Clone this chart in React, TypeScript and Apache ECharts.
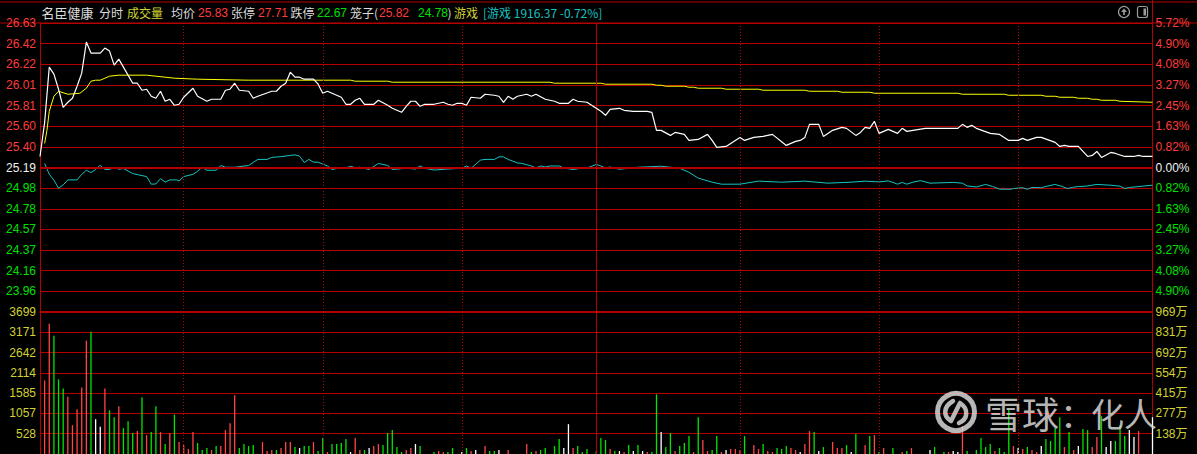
import React, { useEffect, useRef } from 'react';
import * as echarts from 'echarts';

// ---------------- data ----------------
const PREV_CLOSE = 25.19;
const PRICE_MAX = 26.63;
const VOL_MAX = 3699; // 手
const AMOUNT_MAX = 969; // 万

// white price line: [minute, price]
const priceLine: [number, number][] = [
  [0, 25.30], [1, 25.64], [2, 26.19], [3, 26.12], [4, 25.97], [5, 25.79], [6, 25.84], [7, 25.88], [8, 26.00], [9, 26.13],
  [10, 26.44], [11, 26.33], [13, 26.33], [14, 26.38], [15, 26.35], [16, 26.21], [17, 26.27], [18, 26.19], [20, 26.03],
  [21, 26.03], [22, 25.96], [23, 25.97], [24, 25.90], [25, 25.88], [26, 25.95], [27, 25.85], [28, 25.87], [29, 25.81],
  [30, 25.82], [31, 25.89], [33, 25.98], [34, 25.90], [36, 25.85], [37, 25.87], [39, 25.87], [40, 25.96], [41, 25.97],
  [42, 26.03], [43, 25.96], [45, 25.95], [46, 25.88], [47, 25.90], [50, 25.95], [51, 25.95], [52, 26.00], [53, 26.03],
  [54, 26.14], [55, 26.09], [56, 26.09], [57, 26.07], [59, 26.07], [60, 26.02], [61, 25.93], [62, 25.95], [64, 25.91],
  [65, 25.89], [66, 25.82], [67, 25.82], [68, 25.86], [69, 25.88], [70, 25.82], [72, 25.82], [73, 25.86], [75, 25.81],
  [76, 25.78], [78, 25.74], [79, 25.80], [80, 25.85], [81, 25.85], [82, 25.80], [83, 25.82], [85, 25.82], [87, 25.84],
  [88, 25.82], [89, 25.81], [90, 25.83], [91, 25.83], [92, 25.81], [93, 25.89], [95, 25.88], [96, 25.92], [98, 25.91],
  [99, 25.90], [100, 25.84], [101, 25.90], [102, 25.87], [103, 25.90], [105, 25.92], [106, 25.90], [107, 25.92],
  [109, 25.87], [111, 25.85], [112, 25.83], [114, 25.83], [115, 25.87], [116, 25.85], [118, 25.84], [119, 25.81],
  [121, 25.75], [122, 25.71], [123, 25.77], [125, 25.78], [126, 25.76], [128, 25.75], [131, 25.75], [132, 25.74],
  [133, 25.56], [134, 25.56], [136, 25.51], [137, 25.54], [139, 25.52], [140, 25.46], [142, 25.47], [144, 25.52],
  [145, 25.46], [146, 25.39], [148, 25.40], [151, 25.49], [152, 25.46], [154, 25.49], [156, 25.50], [158, 25.52],
  [161, 25.41], [163, 25.45], [164, 25.46], [165, 25.49], [166, 25.62], [168, 25.62], [169, 25.50], [171, 25.56],
  [173, 25.59], [174, 25.58], [176, 25.51], [177, 25.54], [178, 25.59], [179, 25.58], [180, 25.65], [181, 25.53],
  [183, 25.57], [184, 25.55], [185, 25.53], [186, 25.58], [187, 25.55], [191, 25.58], [198, 25.58], [199, 25.62],
  [200, 25.59], [201, 25.61], [202, 25.58], [205, 25.53], [207, 25.52], [209, 25.46], [211, 25.46], [212, 25.48],
  [213, 25.46], [215, 25.49], [216, 25.49], [219, 25.44], [220, 25.40], [221, 25.41], [222, 25.40], [224, 25.40],
  [226, 25.30], [227, 25.31], [228, 25.35], [229, 25.29], [231, 25.34], [232, 25.33], [234, 25.30], [236, 25.30],
  [237, 25.31], [238, 25.30], [240, 25.30],
];

// yellow average price line
const avgLine: [number, number][] = [
  [1, 25.43], [1.5, 25.56], [2, 25.75], [3, 25.90], [4, 25.95], [6, 25.92], [8.6, 25.93], [10, 25.98], [11, 26.05],
  [12, 26.06], [13, 26.06], [15, 26.10], [17, 26.11], [23, 26.11], [25, 26.10], [29, 26.08], [34, 26.07], [45, 26.06],
  [67, 26.06], [68, 26.05], [75, 26.05], [76, 26.04], [110, 26.04], [111, 26.03], [121, 26.03], [122, 26.02],
  [132, 26.02], [133, 26.01], [134, 26.01], [135, 26.00], [139, 26.00], [140, 25.99], [141, 25.99], [142, 25.98],
  [147, 25.98], [148, 25.97], [155, 25.97], [156, 25.96], [165, 25.96], [166, 25.95], [172, 25.95], [173, 25.94],
  [179, 25.94], [180, 25.93], [198, 25.93], [199, 25.92], [208, 25.92], [209, 25.91], [216, 25.91], [217, 25.90],
  [219, 25.90], [220, 25.89], [223, 25.89], [224, 25.88], [226, 25.88], [227, 25.87], [228, 25.87], [229, 25.86],
  [232, 25.86], [233, 25.85], [240, 25.84],
];

// cyan sector index (游戏) change in %
const indexPct: [number, number][] = [
  [1, 0.16], [2, -0.27], [3, -0.50], [4, -0.82], [5, -0.69], [6, -0.49], [8, -0.49], [9, -0.27], [10, -0.11],
  [11, -0.20], [12, -0.08], [13, 0.09], [14, -0.08], [15, -0.08], [16, 0.01], [17, -0.07], [18, -0.04], [20, -0.24],
  [22, -0.32], [23, -0.36], [24, -0.66], [25, -0.65], [26, -0.44], [27, -0.58], [28, -0.49], [29.5, -0.49],
  [30, -0.53], [31, -0.36], [33, -0.27], [34, -0.15], [35, 0.01], [36, -0.11], [38, -0.11], [39, 0.08], [40, 0.01],
  [42, 0.01], [45, 0.08], [46, 0.20], [47, 0.32], [49, 0.32], [50, 0.40], [52, 0.43], [55, 0.50], [56, 0.45],
  [57, 0.20], [58, 0.32], [59, 0.21], [60, 0.21], [62, 0.06], [63, -0.08], [65, 0.0], [66, -0.02], [67, 0.05],
  [68, -0.01], [69, 0.01], [71, -0.08], [73, 0.16], [75, 0.08], [76, -0.08], [79, -0.03], [81, -0.06], [82, 0.06],
  [83, -0.03], [85, -0.10], [88, -0.06], [91, -0.03], [92, 0.06], [93, -0.03], [95, 0.29], [96, 0.32], [98, 0.32],
  [99, 0.42], [100, 0.42], [101, 0.32], [103, 0.18], [104, 0.16], [106, 0.06], [107, -0.02], [108, 0.06],
  [109, 0.02], [110, 0.06], [112, 0.06], [113, -0.02], [115, -0.08], [117, -0.02], [118, -0.02], [120, 0.12],
  [121, 0.06], [122, -0.02], [123, 0.02], [125, -0.07], [129, 0.01], [134, 0.05], [138, -0.03], [140, -0.19],
  [142, -0.42], [145, -0.58], [147, -0.66], [151, -0.66], [155, -0.54], [160, -0.58], [165, -0.54], [170, -0.62],
  [175, -0.58], [178, -0.54], [181, -0.57], [183, -0.53], [184, -0.59], [185, -0.66], [186, -0.59], [187, -0.66],
  [188.5, -0.57], [190, -0.52], [192, -0.62], [197, -0.59], [199, -0.62], [200, -0.73], [202, -0.77], [204, -0.67],
  [205.5, -0.75], [207, -0.86], [209.5, -0.86], [210, -0.83], [212, -0.80], [213, -0.86], [214, -0.79], [216, -0.80],
  [217, -0.75], [219, -0.67], [220.5, -0.75], [221.6, -0.83], [222.7, -0.79], [224, -0.75], [225.6, -0.74],
  [228, -0.67], [231, -0.70], [233, -0.74], [234, -0.83], [235, -0.79], [240, -0.70],
];

// volume bars: [minute, volume (手), direction u=up d=down f=flat]
const volumeBars: [number, number, string][] = [
  [1, 1917, 'u'], [2, 3393, 'u'], [3, 3082, 'd'], [4, 1943, 'd'], [5, 1709, 'd'], [6, 1494, 'u'], [7, 751, 'u'],
  [8, 1166, 'u'], [9, 1735, 'u'], [10, 2953, 'u'], [11, 3186, 'd'], [12, 907, 'f'], [13, 707, 'f'], [14, 1709, 'u'],
  [15, 1140, 'd'], [16, 958, 'd'], [17, 1243, 'u'], [18, 673, 'd'], [19, 855, 'd'], [20, 544, 'd'], [21, 596, 'u'],
  [22, 1476, 'd'], [23, 492, 'u'], [24, 570, 'd'], [25, 1243, 'd'], [26, 570, 'u'], [27, 259, 'd'], [28, 544, 'u'],
  [29, 1027, 'd'], [30, 311, 'u'], [31, 233, 'u'], [32, 130, 'u'], [33, 570, 'u'], [34, 285, 'd'], [35, 104, 'd'],
  [36, 155, 'd'], [37, 104, 'u'], [38, 207, 'd'], [39, 207, 'u'], [40, 622, 'u'], [41, 803, 'u'], [42, 1528, 'u'],
  [43, 155, 'd'], [44, 259, 'd'], [45, 207, 'd'], [46, 233, 'd'], [48, 311, 'u'], [49, 78, 'u'], [50, 104, 'u'],
  [51, 104, 'd'], [52, 155, 'u'], [53, 311, 'u'], [54, 311, 'u'], [55, 181, 'd'], [56, 155, 'f'], [57, 207, 'd'],
  [58, 207, 'd'], [59, 311, 'u'], [60, 78, 'd'], [61, 414, 'd'], [62, 52, 'u'], [63, 259, 'd'], [64, 259, 'd'],
  [65, 285, 'd'], [66, 388, 'd'], [67, 52, 'f'], [68, 414, 'u'], [69, 104, 'u'], [70, 104, 'd'], [71, 155, 'f'],
  [72, 207, 'u'], [73, 259, 'u'], [74, 233, 'd'], [75, 544, 'd'], [76, 622, 'd'], [77, 181, 'd'], [78, 52, 'd'],
  [79, 104, 'u'], [80, 155, 'u'], [81, 259, 'f'], [82, 207, 'd'], [85, 52, 'd'], [86, 78, 'u'], [87, 52, 'u'],
  [88, 52, 'd'], [89, 155, 'd'], [91, 52, 'f'], [92, 155, 'd'], [93, 78, 'u'], [94, 104, 'f'], [96, 207, 'u'],
  [97, 78, 'd'], [98, 78, 'd'], [99, 104, 'f'], [101, 104, 'u'], [105, 259, 'u'], [106, 52, 'd'], [107, 78, 'u'],
  [108, 104, 'd'], [109, 155, 'd'], [111, 207, 'd'], [112, 388, 'd'], [113, 155, 'f'], [114, 777, 'f'],
  [115, 155, 'u'], [116, 207, 'd'], [117, 52, 'd'], [118, 130, 'd'], [120, 78, 'd'], [121, 414, 'd'], [122, 362, 'd'],
  [123, 130, 'u'], [124, 78, 'd'], [125, 78, 'f'], [126, 52, 'u'], [127, 233, 'd'], [128, 78, 'f'], [129, 233, 'd'],
  [130, 78, 'f'], [131, 52, 'u'], [132, 52, 'd'], [133, 1554, 'd'], [134, 570, 'f'], [135, 181, 'd'], [136, 544, 'd'],
  [137, 78, 'u'], [138, 207, 'd'], [139, 285, 'd'], [140, 466, 'd'], [141, 52, 'u'], [142, 958, 'd'], [143, 362, 'u'],
  [144, 78, 'u'], [145, 104, 'd'], [146, 466, 'd'], [147, 52, 'u'], [148, 104, 'f'], [149, 130, 'u'], [150, 130, 'u'],
  [151, 104, 'u'], [152, 466, 'd'], [154, 233, 'u'], [155, 130, 'u'], [156, 259, 'd'], [157, 78, 'u'], [158, 52, 'u'],
  [159, 155, 'd'], [160, 130, 'd'], [161, 207, 'd'], [162, 155, 'u'], [163, 104, 'u'], [164, 52, 'f'], [165, 259, 'u'],
  [166, 596, 'u'], [167, 570, 'd'], [168, 78, 'f'], [169, 181, 'd'], [171, 311, 'u'], [172, 155, 'u'], [173, 155, 'u'],
  [174, 233, 'd'], [175, 52, 'f'], [176, 518, 'd'], [178, 233, 'u'], [179, 466, 'd'], [180, 492, 'u'], [181, 52, 'd'],
  [182, 155, 'u'], [184, 155, 'd'], [186, 52, 'u'], [187, 78, 'd'], [188, 155, 'u'], [192, 104, 'f'], [193, 181, 'd'],
  [195, 52, 'd'], [196, 52, 'u'], [197, 78, 'f'], [198, 52, 'f'], [199, 725, 'u'], [200, 78, 'd'], [202, 104, 'd'],
  [203, 414, 'd'], [204, 181, 'd'], [205, 259, 'd'], [206, 78, 'u'], [207, 155, 'd'], [208, 52, 'd'], [209, 1166, 'd'],
  [210, 207, 'u'], [211, 155, 'f'], [212, 130, 'u'], [213, 181, 'd'], [214, 104, 'u'], [215, 52, 'u'], [216, 207, 'f'],
  [217, 388, 'd'], [218, 337, 'd'], [219, 673, 'd'], [220, 958, 'd'], [221, 181, 'u'], [222, 570, 'd'], [223, 104, 'u'],
  [224, 207, 'f'], [225, 648, 'd'], [226, 622, 'd'], [227, 181, 'u'], [228, 440, 'u'], [229, 984, 'd'], [230, 181, 'f'],
  [231, 337, 'f'], [232, 337, 'd'], [233, 751, 'd'], [234, 466, 'd'], [235, 622, 'f'], [236, 440, 'f'], [237, 596, 'u'],
  [240, 958, 'f'],
];

const halfHourLines = [31, 61, 91, 151, 181, 211];
const middayLine = 120;

// header texts
const headerItems: { text: string; x: number; kind: string }[] = [
  { text: '名臣健康', x: 41.5, kind: 'w' },
  { text: '分时', x: 99, kind: 'w' },
  { text: '成交量', x: 127, kind: 'y' },
  { text: '均价', x: 171, kind: 'w' },
  { text: '25.83', x: 198, kind: 'r' },
  { text: '张停', x: 231, kind: 'w' },
  { text: '27.71', x: 258, kind: 'r' },
  { text: '跌停', x: 290.5, kind: 'w' },
  { text: '22.67', x: 317, kind: 'g' },
  { text: '笼子(', x: 350, kind: 'w' },
  { text: '25.82', x: 379, kind: 'r' },
  { text: '24.78', x: 418, kind: 'g' },
  { text: ')', x: 447.5, kind: 'w' },
  { text: '游戏', x: 454, kind: 'y' },
  { text: '[游戏 1916.37 -0.72%]', x: 483, kind: 'c' },
];

// watermark texts
const watermarkItems: { text: string; x: number; size: number }[] = [
  { text: '雪球', x: 985, size: 37 },
  { text: '：', x: 1060, size: 34 },
  { text: '化人', x: 1091, size: 33 },
];

// ---------------- styles ----------------
const GRID = '#b40000';
const RED = '#ff3c3c';
const GREEN = '#00e000';
const WHITE = '#f0f0f0';
const YELLOW = '#d2d232';
const CYAN = '#16c2c2';
const WM = 'rgba(215,215,215,0.85)';
const NUM_FONT = '"Liberation Sans", Arial, sans-serif';
const CJK_FONT = '"Noto Sans CJK SC", "Liberation Sans", sans-serif';

const STEP = (PRICE_MAX - PREV_CLOSE) / 7;
const PRICE_MIN = PREV_CLOSE - 7 * STEP;
const PCT_MAX = ((PRICE_MAX - PREV_CLOSE) / PREV_CLOSE) * 100;

const LOGO_D =
  'M -3 -11 C -13 -5 -13 4 -5 9 M 4 -9 C 13 -3 12 7 3 11 M -5 9 L 4 -9';
let logoRegistered = false;
function ensureLogo() {
  if (logoRegistered) return;
  echarts.graphic.registerShape('xqlogo', echarts.graphic.extendPath(LOGO_D, {}) as any);
  logoRegistered = true;
}

const kindColor: Record<string, string> = { w: '#dcdcdc', y: YELLOW, r: RED, g: GREEN, c: CYAN };
const dirColor: Record<string, string> = { u: '#ff4646', d: '#00e600', f: '#ffffff' };

function buildOption() {
  const signColor = (v: number, eps: number) => (v > eps ? RED : v < -eps ? GREEN : WHITE);

  const vLines = [
    ...halfHourLines.map((x) => ({ xAxis: x })),
    { xAxis: middayLine, lineStyle: { type: 'solid', width: 1, color: GRID } },
  ];

  const graphic: any[] = [
    { type: 'line', shape: { x1: 0, y1: 2, x2: 1197, y2: 2 }, style: { stroke: GRID, lineWidth: 1 }, silent: true },
    { type: 'line', shape: { x1: 0, y1: 23, x2: 1197, y2: 23 }, style: { stroke: GRID, lineWidth: 1 }, silent: true },
    { type: 'line', shape: { x1: 1152.5, y1: 0, x2: 1152.5, y2: 23 }, style: { stroke: GRID, lineWidth: 1 }, silent: true },
    ...headerItems.map((h) => {
      const isNum = /[0-9]/.test(h.text) && !/[\u4e00-\u9fff]/.test(h.text);
      const big = h.text === '名臣健康';
      return {
        type: 'text',
        x: h.x,
        y: 12.5,
        silent: true,
        style: {
          text: h.text,
          fill: kindColor[h.kind],
          font: isNum ? `12px ${NUM_FONT}` : `${big ? 13 : 12}px ${CJK_FONT}`,
          verticalAlign: 'middle',
          align: 'left',
        },
      };
    }),
    // top-right icons
    { type: 'circle', shape: { cx: 1124, cy: 12, r: 5.5 }, style: { fill: 'none', stroke: '#9a9a9a', lineWidth: 1.2 }, silent: true },
    { type: 'polygon', shape: { points: [[1124, 8.5], [1121, 12], [1127, 12]] }, style: { fill: '#9a9a9a' }, silent: true },
    { type: 'rect', shape: { x: 1123.2, y: 11.5, width: 1.6, height: 3.5 }, style: { fill: '#9a9a9a' }, silent: true },
    { type: 'rect', shape: { x: 1137.5, y: 6.5, width: 10, height: 11, r: 2 }, style: { fill: 'none', stroke: '#9a9a9a', lineWidth: 1.2 }, silent: true },
    { type: 'rect', shape: { x: 1143.5, y: 8.5, width: 2.5, height: 7 }, style: { fill: '#9a9a9a' }, silent: true },
    // watermark
    { type: 'circle', shape: { cx: 956, cy: 412, r: 18.5 }, style: { fill: 'none', stroke: WM, lineWidth: 5 }, silent: true, z: 100 },
    { type: 'xqlogo', x: 956, y: 412, scaleX: 1, scaleY: 1, style: { fill: 'none', stroke: WM, lineWidth: 4.5, lineCap: 'round' }, silent: true, z: 100 },
    ...watermarkItems.map((w) => ({
      type: 'text', x: w.x, y: 413, silent: true, z: 100,
      style: { text: w.text, fill: WM, font: `${w.size}px ${CJK_FONT}`, verticalAlign: 'middle', align: 'left' },
    })),
  ];

  return {
    animation: false,
    backgroundColor: '#000000',
    graphic,
    grid: [
      { left: 40, right: 44.5, top: 23, height: 289 },
      { left: 40, right: 44.5, top: 312, height: 142.7 },
    ],
    xAxis: [
      { gridIndex: 0, type: 'value', min: 0, max: 240, show: false },
      { gridIndex: 1, type: 'value', min: 0, max: 240, show: false },
    ],
    yAxis: [
      {
        gridIndex: 0, type: 'value', position: 'left', min: PRICE_MIN, max: PRICE_MAX, interval: STEP,
        axisLine: { show: true, onZero: false, lineStyle: { color: GRID, width: 1 } },
        axisTick: { show: false },
        splitLine: { show: true, lineStyle: { color: GRID, width: 1 } },
        axisLabel: {
          showMinLabel: false, margin: 4, fontSize: 12, fontFamily: NUM_FONT,
          formatter: (v: number) => Number(v).toFixed(2),
          color: (v: any) => signColor(Number(v) - PREV_CLOSE, 0.001),
        },
      },
      {
        gridIndex: 0, type: 'value', position: 'right', min: -PCT_MAX, max: PCT_MAX, interval: PCT_MAX / 7,
        axisLine: { show: true, onZero: false, lineStyle: { color: GRID, width: 1 } },
        axisTick: { show: false },
        splitLine: { show: false },
        axisLabel: {
          showMinLabel: false, margin: 3, fontSize: 12, fontFamily: NUM_FONT,
          formatter: (v: number) => Math.abs(Number(v)).toFixed(2) + '%',
          color: (v: any) => signColor(Number(v), 0.001),
        },
      },
      {
        gridIndex: 1, type: 'value', position: 'left', min: 0, max: VOL_MAX, interval: VOL_MAX / 7,
        axisLine: { show: true, onZero: false, lineStyle: { color: GRID, width: 1 } },
        axisTick: { show: false },
        splitLine: { show: true, lineStyle: { color: GRID, width: 1 } },
        axisLabel: {
          showMinLabel: false, margin: 4, fontSize: 12, fontFamily: NUM_FONT, color: YELLOW,
          formatter: (v: number) => String(Math.round(Number(v))),
        },
      },
      {
        gridIndex: 1, type: 'value', position: 'right', min: 0, max: AMOUNT_MAX, interval: AMOUNT_MAX / 7,
        axisLine: { show: true, onZero: false, lineStyle: { color: GRID, width: 1 } },
        axisTick: { show: false },
        splitLine: { show: false },
        axisLabel: {
          showMinLabel: false, margin: 3, fontSize: 12, fontFamily: `${NUM_FONT}, "Noto Sans CJK SC"`, color: YELLOW,
          formatter: (v: number) => Math.round(Number(v)) + '万',
        },
      },
    ],
    series: [
      {
        type: 'line', xAxisIndex: 0, yAxisIndex: 0, data: avgLine, showSymbol: false, silent: true,
        lineStyle: { color: '#ffff00', width: 1 }, z: 4,
        markLine: {
          symbol: 'none', silent: true, label: { show: false },
          lineStyle: { color: GRID, type: [1, 2], width: 1 },
          data: [...vLines, { yAxis: PREV_CLOSE, lineStyle: { type: 'solid', width: 2, color: GRID } }],
        },
      },
      {
        type: 'line', xAxisIndex: 0, yAxisIndex: 1, data: indexPct, showSymbol: false, silent: true,
        lineStyle: { color: CYAN, width: 1 }, z: 4,
      },
      {
        type: 'line', xAxisIndex: 0, yAxisIndex: 0, data: priceLine, showSymbol: false, silent: true,
        lineStyle: { color: '#ffffff', width: 1.2 }, z: 5,
      },
      {
        type: 'bar', xAxisIndex: 1, yAxisIndex: 2, barWidth: 1.3, silent: true,
        data: volumeBars.map(([m, v, d]) => ({ value: [m, v], itemStyle: { color: dirColor[d] } })),
        markLine: {
          symbol: 'none', silent: true, label: { show: false },
          lineStyle: { color: GRID, type: [1, 2], width: 1 },
          data: [...vLines, { yAxis: VOL_MAX, lineStyle: { type: 'solid', width: 2, color: GRID } }],
        },
      },
    ],
  };
}

export default function App() {
  const ref = useRef<HTMLDivElement>(null);
  useEffect(() => {
    ensureLogo();
    const chart = echarts.init(ref.current as HTMLDivElement, null, { renderer: 'svg' });
    chart.setOption(buildOption() as any);
    return () => chart.dispose();
  }, []);
  return (
    <div
      ref={ref}
      style={{ position: 'fixed', left: 0, top: 0, width: 1197, height: 454, background: '#000', overflow: 'hidden' }}
    />
  );
}
